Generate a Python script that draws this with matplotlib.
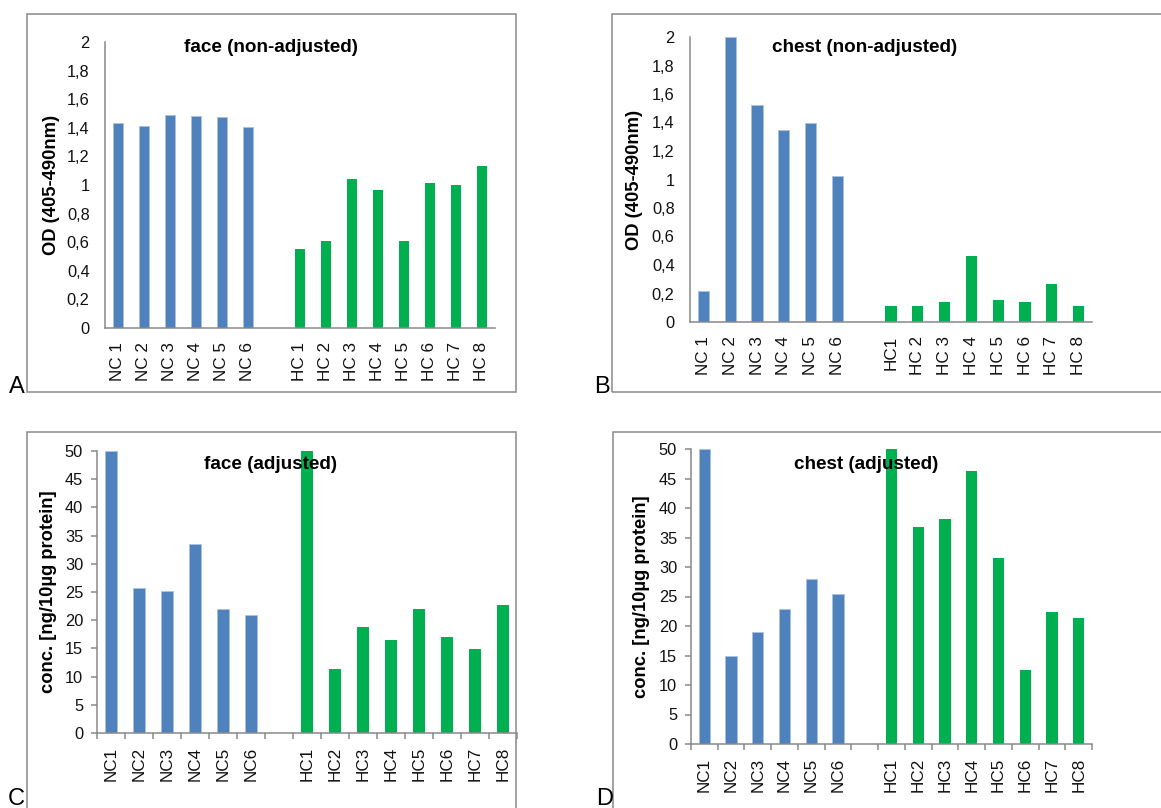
import numpy as np
import matplotlib
matplotlib.use("Agg")
import matplotlib.pyplot as plt
from matplotlib.patches import Rectangle
from matplotlib.ticker import FuncFormatter, MultipleLocator

plt.rcParams['font.family'] = ['Liberation Sans', 'DejaVu Sans']

W, H = 1161, 808
BLUE = '#4F81BD'
GREEN = '#00B050'
GRAY = '#898989'

# data
nc_spaced = ['NC 1', 'NC 2', 'NC 3', 'NC 4', 'NC 5', 'NC 6']
hc_spaced = ['HC 1', 'HC 2', 'HC 3', 'HC 4', 'HC 5', 'HC 6', 'HC 7', 'HC 8']
hc_spaced_b = ['HC1', 'HC 2', 'HC 3', 'HC 4', 'HC 5', 'HC 6', 'HC 7', 'HC 8']
nc_plain = ['NC1', 'NC2', 'NC3', 'NC4', 'NC5', 'NC6']
hc_plain = ['HC1', 'HC2', 'HC3', 'HC4', 'HC5', 'HC6', 'HC7', 'HC8']

face_raw_nc = [1.435, 1.41, 1.49, 1.485, 1.475, 1.405]
face_raw_hc = [0.555, 0.61, 1.04, 0.965, 0.61, 1.015, 1.0, 1.135]
chest_raw_nc = [0.215, 2.0, 1.525, 1.35, 1.395, 1.025]
chest_raw_hc = [0.112, 0.112, 0.14, 0.465, 0.155, 0.14, 0.268, 0.112]
face_adj_nc = [50, 25.7, 25.1, 33.5, 22.0, 20.9]
face_adj_hc = [50, 11.4, 18.8, 16.5, 22.0, 17.1, 14.9, 22.7]
chest_adj_nc = [50, 15.0, 19.0, 22.9, 27.9, 25.5]
chest_adj_hc = [50, 36.8, 38.2, 46.2, 31.6, 12.6, 22.3, 21.4]

fig = plt.figure(figsize=(W / 100, H / 100), dpi=100)


def px(x, y):
    return x / W, 1 - y / H


def comma(v, pos):
    return '{:g}'.format(round(v, 3)).replace('.', ',')


def panel(box, nc, hc, nc_lab, hc_lab, ymax, ystep, ticks):
    l, t, r, b = box
    ax = fig.add_axes([l / W, 1 - b / H, (r - l) / W, (b - t) / H])
    pos_nc = np.arange(len(nc))
    pos_hc = np.arange(len(hc)) + len(nc) + 1
    ax.bar(pos_nc, nc, width=0.42, color=BLUE, edgecolor='#A9C2E0', linewidth=0.6)
    ax.bar(pos_hc, hc, width=0.42, color=GREEN, linewidth=0)
    ax.set_xlim(-0.5, len(nc) + len(hc) + 0.5)
    ax.set_ylim(0, ymax)
    for s in ['top', 'right']:
        ax.spines[s].set_visible(False)
    for s in ['left', 'bottom']:
        ax.spines[s].set_color(GRAY)
        ax.spines[s].set_linewidth(1.1)
    ax.yaxis.set_major_locator(MultipleLocator(ystep))
    ax.yaxis.set_major_formatter(FuncFormatter(comma))
    ax.set_xticks(np.concatenate([pos_nc, pos_hc]))
    ax.set_xticklabels(nc_lab + hc_lab, rotation=90)
    if ticks:
        ax.tick_params(axis='y', length=4, color=GRAY, width=1.1, pad=6,
                       labelsize=11.8, labelcolor='#111111')
        ax.tick_params(axis='x', which='major', length=0, pad=10,
                       labelsize=12.3, labelcolor='#111111')
        ax.set_xticks(np.arange(-0.5, len(nc) + len(hc) + 1, 1), minor=True)
        ax.tick_params(axis='x', which='minor', length=4, color=GRAY, width=1.1)
    else:
        ax.tick_params(axis='y', length=0, pad=11, labelsize=11.8, labelcolor='#111111')
        ax.tick_params(axis='x', length=0, pad=10, labelsize=12.3, labelcolor='#111111')
    return ax


panel((105, 42, 495, 328), face_raw_nc, face_raw_hc, nc_spaced, hc_spaced, 2, 0.2, False)
panel((690, 37, 1092, 322), chest_raw_nc, chest_raw_hc, nc_spaced, hc_spaced_b, 2, 0.2, False)
panel((97, 451, 517, 733), face_adj_nc, face_adj_hc, nc_plain, hc_plain, 50, 5, True)
panel((691, 449, 1092, 744), chest_adj_nc, chest_adj_hc, nc_plain, hc_plain, 50, 5, True)

# titles and axis labels
titles = ['face (non-adjusted)', 'chest (non-adjusted)', 'face (adjusted)', 'chest (adjusted)']
title_xy = [(271, 47), (865, 47), (271, 465), (866, 465)]
for txt, (x, y) in zip(titles, title_xy):
    fig.text(*px(x, y), txt, fontsize=13.6, fontweight='bold', ha='center', va='center')

ylabels = ['OD (405-490nm)', 'OD (405-490nm)', 'conc. [ng/10µg protein]', 'conc. [ng/10µg protein]']
ylabel_xy = [(51, 185), (635, 180), (49, 592), (641, 597)]
for txt, (x, y) in zip(ylabels, ylabel_xy):
    fig.text(*px(x, y), txt, fontsize=13.2, fontweight='bold', ha='center', va='center',
             rotation=90)

# panel frames
frames = [(27, 14, 516, 392), (612, 14, 1175, 392), (27, 432, 516, 820), (613, 432, 1175, 820)]
for l, t, r, b in frames:
    fig.add_artist(Rectangle(px(l, b), (r - l) / W, (b - t) / H, transform=fig.transFigure,
                             fill=False, edgecolor=GRAY, linewidth=1.1))

# panel letters
letters = ['A', 'B', 'C', 'D']
letter_xy = [(9, 393), (594, 393), (8, 805), (596, 805)]
for txt, (x, y) in zip(letters, letter_xy):
    fig.text(*px(x, y), txt, fontsize=17, ha='left', va='baseline')

fig.savefig('out.png', dpi=100)
